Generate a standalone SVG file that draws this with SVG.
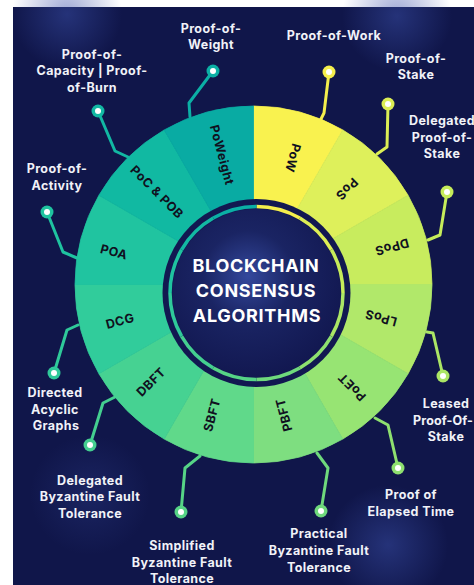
<svg xmlns="http://www.w3.org/2000/svg" width="474" height="585" viewBox="0 0 474 585">
<defs>
<style>
.seg-t{font-family:Inter,"Liberation Sans",sans-serif;font-weight:700;font-size:12.5px;fill:#101020;text-anchor:middle;letter-spacing:0.4px}
.lbl{font-family:Inter,"Liberation Sans",sans-serif;font-weight:700;font-size:12.5px;fill:#F1F2F8;text-anchor:middle;letter-spacing:0.4px}
.title{font-family:Inter,"Liberation Sans",sans-serif;font-weight:700;font-size:18px;fill:#FFFFFF;text-anchor:middle;letter-spacing:0.7px}
.conn{fill:none;stroke-width:3;stroke-linejoin:round;stroke-linecap:round}
.dotc{fill:#FFFFFF}
.wedge{stroke-width:0.8;stroke-linejoin:round}
</style>
<radialGradient id="glow" cx="0.5" cy="0.5" r="0.5">
<stop offset="0" stop-color="#3A4FA8" stop-opacity="0.5"/>
<stop offset="1" stop-color="#3A4FA8" stop-opacity="0"/>
</radialGradient>
<radialGradient id="cglow" cx="0.45" cy="0.4" r="0.6">
<stop offset="0" stop-color="#34489C"/>
<stop offset="0.45" stop-color="#1A2463"/>
<stop offset="1" stop-color="#121851"/>
</radialGradient>
</defs>
<rect x="0" y="0" width="474" height="585" fill="#FFFFFF"/>
<rect x="13" y="7" width="461" height="578" fill="#10164A"/>
<circle cx="67" cy="14" r="55" fill="url(#glow)"/>
<circle cx="397" cy="16" r="55" fill="url(#glow)"/>
<circle cx="388" cy="545" r="60" fill="url(#glow)"/>
<circle cx="90" cy="495" r="60" fill="url(#glow)" opacity="0.5"/>

<g id="connectors">
<path class="conn" stroke="#F4EE4C" d="M321,119 L324,113 L329,72"/>
<path class="conn" stroke="#DCEE55" d="M377,154 L387,147 L388,104"/>
<path class="conn" stroke="#C6EC5A" d="M428,240 L440,235 L447,192"/>
<path class="conn" stroke="#ABE665" d="M427,332 L433,333 L443,376"/>
<path class="conn" stroke="#8EE06F" d="M375,418 L388,425 L398,468"/>
<path class="conn" stroke="#6FD97C" d="M317,453 L328,468 L321,511"/>
<path class="conn" stroke="#56D486" d="M200,456 L185,468 L181,512"/>
<path class="conn" stroke="#44CF90" d="M115,397 L103,403 L90,445"/>
<path class="conn" stroke="#2FC99A" d="M78,325 L67,330 L54,373"/>
<path class="conn" stroke="#1FC3A0" d="M77,258 L63,252 L47,212"/>
<path class="conn" stroke="#12B8A3" d="M128,157 L115,151 L98,111"/>
<path class="conn" stroke="#0BAFA5" d="M190,117 L189,103 L213,71"/>
<circle cx="329" cy="72" r="6.5" fill="#F4EE4C"/><circle class="dotc" cx="329" cy="72" r="3"/>
<circle cx="388" cy="104" r="6.5" fill="#DCEE55"/><circle class="dotc" cx="388" cy="104" r="3"/>
<circle cx="447" cy="192" r="6.5" fill="#C6EC5A"/><circle class="dotc" cx="447" cy="192" r="3"/>
<circle cx="443" cy="376" r="6.5" fill="#ABE665"/><circle class="dotc" cx="443" cy="376" r="3"/>
<circle cx="398" cy="468" r="6.5" fill="#8EE06F"/><circle class="dotc" cx="398" cy="468" r="3"/>
<circle cx="321" cy="511" r="6.5" fill="#6FD97C"/><circle class="dotc" cx="321" cy="511" r="3"/>
<circle cx="181" cy="512" r="6.5" fill="#56D486"/><circle class="dotc" cx="181" cy="512" r="3"/>
<circle cx="90" cy="445" r="6.5" fill="#44CF90"/><circle class="dotc" cx="90" cy="445" r="3"/>
<circle cx="54" cy="373" r="6.5" fill="#2FC99A"/><circle class="dotc" cx="54" cy="373" r="3"/>
<circle cx="47" cy="212" r="6.5" fill="#1FC3A0"/><circle class="dotc" cx="47" cy="212" r="3"/>
<circle cx="98" cy="111" r="6.5" fill="#12B8A3"/><circle class="dotc" cx="98" cy="111" r="3"/>
<circle cx="213" cy="71" r="6.5" fill="#0BAFA5"/><circle class="dotc" cx="213" cy="71" r="3"/>
</g>

<g id="node-pow">
<path class="wedge" fill="#F9F24F" stroke="#F9F24F" d="M253.5,284.5 L253.5,106 A178.5,178.5 0 0 1 342.75,129.92 Z"/>
<text class="seg-t" transform="translate(293,158) rotate(105)" dy="0.35em">PoW</text>
<text class="lbl" x="334" y="39.5">Proof-of-Work</text>
</g>
<g id="node-pos">
<path class="wedge" fill="#DEF05B" stroke="#DEF05B" d="M253.5,284.5 L342.75,129.92 A178.5,178.5 0 0 1 408.08,195.25 Z"/>
<text class="seg-t" transform="translate(347,189) rotate(135)" dy="0.35em">PoS</text>
<text class="lbl" x="416" y="62.5">Proof-of-</text>
<text class="lbl" x="416" y="79">Stake</text>
</g>
<g id="node-dpos">
<path class="wedge" fill="#C8EC5E" stroke="#C8EC5E" d="M253.5,284.5 L408.08,195.25 A178.5,178.5 0 0 1 432,284.5 Z"/>
<text class="seg-t" transform="translate(392,247) rotate(165)" dy="0.35em">DPoS</text>
<text class="lbl" x="442" y="124.5">Delegated</text>
<text class="lbl" x="442" y="141.5">Proof-of-</text>
<text class="lbl" x="442" y="158">Stake</text>
</g>
<g id="node-lpos">
<path class="wedge" fill="#B1E86A" stroke="#B1E86A" d="M253.5,284.5 L432,284.5 A178.5,178.5 0 0 1 408.08,373.75 Z"/>
<text class="seg-t" transform="translate(381,318) rotate(195)" dy="0.35em">LPoS</text>
<text class="lbl" x="446" y="407.5">Leased</text>
<text class="lbl" x="443" y="424.5" style="letter-spacing:0.1px">Proof-Of-</text>
<text class="lbl" x="446" y="441">Stake</text>
</g>
<g id="node-poet">
<path class="wedge" fill="#97E473" stroke="#97E473" d="M253.5,284.5 L408.08,373.75 A178.5,178.5 0 0 1 342.75,439.08 Z"/>
<text class="seg-t" transform="translate(352,387) rotate(225)" dy="0.35em">PoET</text>
<text class="lbl" x="411" y="499">Proof of</text>
<text class="lbl" x="411" y="516">Elapsed Time</text>
</g>
<g id="node-pbft">
<path class="wedge" fill="#7EDE80" stroke="#7EDE80" d="M253.5,284.5 L342.75,439.08 A178.5,178.5 0 0 1 253.5,463 Z"/>
<text class="seg-t" transform="translate(284,415) rotate(255)" dy="0.35em">PBFT</text>
<text class="lbl" x="319" y="538">Practical</text>
<text class="lbl" x="319" y="555">Byzantine Fault</text>
<text class="lbl" x="319" y="572">Tolerance</text>
</g>
<g id="node-sbft">
<path class="wedge" fill="#60D98A" stroke="#60D98A" d="M253.5,284.5 L253.5,463 A178.5,178.5 0 0 1 164.25,439.08 Z"/>
<text class="seg-t" transform="translate(212,415) rotate(285)" dy="0.35em">SBFT</text>
<text class="lbl" x="182" y="550">Simplified</text>
<text class="lbl" x="182" y="567">Byzantine Fault</text>
<text class="lbl" x="182" y="583">Tolerance</text>
</g>
<g id="node-dbft">
<path class="wedge" fill="#46D292" stroke="#46D292" d="M253.5,284.5 L164.25,439.08 A178.5,178.5 0 0 1 98.92,373.75 Z"/>
<text class="seg-t" transform="translate(151,382) rotate(315)" dy="0.35em">DBFT</text>
<text class="lbl" x="90" y="484.5">Delegated</text>
<text class="lbl" x="90" y="501">Byzantine Fault</text>
<text class="lbl" x="90" y="517.5">Tolerance</text>
</g>
<g id="node-dcg">
<path class="wedge" fill="#31CC9B" stroke="#31CC9B" d="M253.5,284.5 L98.92,373.75 A178.5,178.5 0 0 1 75,284.5 Z"/>
<text class="seg-t" transform="translate(120,321) rotate(345)" dy="0.35em">DCG</text>
<text class="lbl" x="55" y="396.5">Directed</text>
<text class="lbl" x="55" y="413.5">Acyclic</text>
<text class="lbl" x="56" y="430">Graphs</text>
</g>
<g id="node-poa">
<path class="wedge" fill="#20C4A0" stroke="#20C4A0" d="M253.5,284.5 L75,284.5 A178.5,178.5 0 0 1 98.92,195.25 Z"/>
<text class="seg-t" transform="translate(114,252) rotate(15)" dy="0.35em">POA</text>
<text class="lbl" x="57" y="173">Proof-of-</text>
<text class="lbl" x="57" y="189.5">Activity</text>
</g>
<g id="node-pocpob">
<path class="wedge" fill="#11B9A2" stroke="#11B9A2" d="M253.5,284.5 L98.92,195.25 A178.5,178.5 0 0 1 164.25,129.92 Z"/>
<text class="seg-t" transform="translate(157,192) rotate(45)" dy="0.35em">PoC &amp; POB</text>
<text class="lbl" x="92" y="58.5">Proof-of-</text>
<text class="lbl" x="92" y="75">Capacity | Proof-</text>
<text class="lbl" x="92" y="92">of-Burn</text>
</g>
<g id="node-poweight">
<path class="wedge" fill="#09ABA3" stroke="#09ABA3" d="M253.5,284.5 L164.25,129.92 A178.5,178.5 0 0 1 253.5,106 Z"/>
<text class="seg-t" transform="translate(222,155) rotate(75)" dy="0.35em">PoWeight</text>
<text class="lbl" x="211" y="32.5">Proof-of-</text>
<text class="lbl" x="211" y="48.5">Weight</text>
</g>

<g id="node-center">
<circle cx="256.5" cy="293" r="94" fill="#121851"/>
<circle cx="256.5" cy="293" r="84" fill="url(#cglow)"/>
<g fill="none" stroke-width="3.5">
<path stroke="#F4EE4C" d="M256.5,206.5 A86.5,86.5 0 0 1 299.75,218.09"/>
<path stroke="#DCEE55" d="M299.75,218.09 A86.5,86.5 0 0 1 331.41,249.75"/>
<path stroke="#C6EC5A" d="M331.41,249.75 A86.5,86.5 0 0 1 343,293"/>
<path stroke="#ABE665" d="M343,293 A86.5,86.5 0 0 1 331.41,336.25"/>
<path stroke="#8EE06F" d="M331.41,336.25 A86.5,86.5 0 0 1 299.75,367.91"/>
<path stroke="#6FD97C" d="M299.75,367.91 A86.5,86.5 0 0 1 256.5,379.5"/>
<path stroke="#56D486" d="M256.5,379.5 A86.5,86.5 0 0 1 213.25,367.91"/>
<path stroke="#44CF90" d="M213.25,367.91 A86.5,86.5 0 0 1 181.59,336.25"/>
<path stroke="#2FC99A" d="M181.59,336.25 A86.5,86.5 0 0 1 170,293"/>
<path stroke="#1FC3A0" d="M170,293 A86.5,86.5 0 0 1 181.59,249.75"/>
<path stroke="#12B8A3" d="M181.59,249.75 A86.5,86.5 0 0 1 213.25,218.09"/>
<path stroke="#0BAFA5" d="M213.25,218.09 A86.5,86.5 0 0 1 256.5,206.5"/>
</g>
<text class="title" x="256" y="272">BLOCKCHAIN</text>
<text class="title" x="256" y="297">CONSENSUS</text>
<text class="title" x="257" y="322">ALGORITHMS</text>
</g>
</svg>
